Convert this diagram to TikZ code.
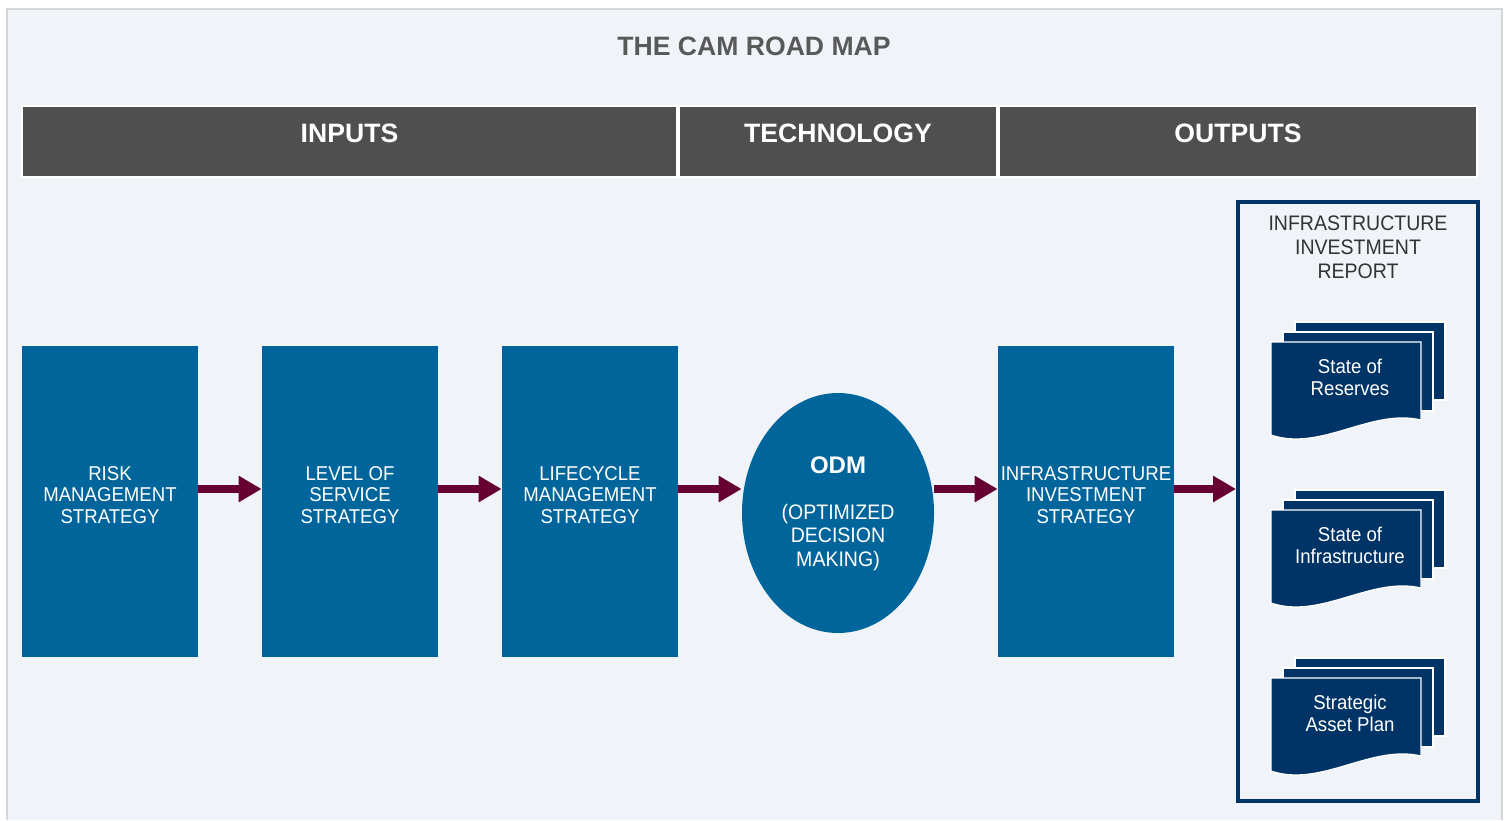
\documentclass[tikz,border=0pt]{standalone}
\usepackage{fontspec}
\setmainfont{Liberation Sans}
\newfontfamily\bodyfont{Liberation Sans}[FakeStretch=0.93]
\usetikzlibrary{positioning}
\usetikzlibrary{arrows.meta}
\usetikzlibrary{shapes.geometric}

\definecolor{panelbg}{HTML}{F0F4F9}
\definecolor{panelline}{HTML}{D5D5D5}
\definecolor{hdrgrey}{HTML}{4F4F4F}
\definecolor{titlegrey}{HTML}{595959}
\definecolor{camblue}{HTML}{00659A}
\definecolor{camnavy}{HTML}{003366}
\definecolor{flowred}{HTML}{660033}
\definecolor{reporttext}{HTML}{333333}

\tikzset{hdr/.style={fill=hdrgrey,draw=white,line width=0.6pt,inner sep=0pt,minimum height=35.5pt}}
\tikzset{hdrtxt/.style={text=white,inner sep=0pt,font=\fontsize{13.3}{15}\selectfont\bfseries}}
\tikzset{blk/.style={fill=camblue,inner sep=0pt,minimum width=88pt,minimum height=155.5pt}}
\tikzset{blktxt/.style={text=white,align=center,inner sep=0pt,font=\bodyfont\fontsize{10}{10.75}\selectfont}}
\tikzset{flow/.style={draw=flowred,line width=4pt,-{Triangle[length=11.5pt,width=12.5pt]}}}
\tikzset{page/.style={fill=camnavy,draw=white,line width=0.6pt}}
\tikzset{stacktxt/.style={text=white,align=center,inner sep=0pt,font=\bodyfont\fontsize{10}{11}\selectfont}}

% three stacked report sheets, front one with a wavy edge
\newcommand\docstack[4]{%
  \begin{scope}[shift={(#2,#3)}]
    \draw[page] (24,-20) rectangle (174,58);
    \draw[page] (12,-10) rectangle (162,69);
    \draw[page] (0,0) -- (150,0) -- (150,78) .. controls (100,66) and (50,110) .. (0,93) -- cycle;
    \node[stacktxt] (#1) at (79,35) {#4};
  \end{scope}}

\begin{document}
\begin{tikzpicture}[x=0.5pt, y=-0.5pt, node distance=120pt, on grid]
    \useasboundingbox (0,0) rectangle (1509,820);
    \fill[white] (0,0) rectangle (1509,820);
    \fill[panelbg] (7,9) rectangle (1502,820);
    \draw[panelline, line width=1pt] (7,820) -- (7,9) -- (1502,9) -- (1502,820);

    \node[text=titlegrey, font=\fontsize{13.3}{15}\selectfont\bfseries] (title) at (754,46) {THE CAM ROAD MAP};

    % column headers
    \node[hdr, minimum width=327.5pt] (inputs) at (349.5,141.5) {};
    \node[hdr, minimum width=159pt] (tech) at (838,141.5) {};
    \node[hdr, minimum width=239pt] (outputs) at (1238,141.5) {};
    \node[hdrtxt] (inputstxt) at ([yshift=4pt]inputs.center) {INPUTS};
    \node[hdrtxt] (techtxt) at ([yshift=4pt]tech.center) {TECHNOLOGY};
    \node[hdrtxt] (outputstxt) at ([yshift=4pt]outputs.center) {OUTPUTS};

    % strategy blocks
    \node[blk] (risk) at (110,501.5) {};
    \node[blk, right=of risk] (service) {};
    \node[blk, right=of service] (lifecycle) {};
    \node[ellipse, fill=camblue, inner sep=0pt, minimum width=96pt, minimum height=120pt] (odm) at (838,513) {};
    \node[blk] (iis) at (1086,501.5) {};
    \node[draw=camnavy, line width=2pt, inner sep=0pt, minimum width=120pt, minimum height=299.5pt] (report) at (1358,501.5) {};

    \node[blktxt] (risktxt) at ([yshift=3.25pt]risk.center) {RISK\\MANAGEMENT\\STRATEGY};
    \node[blktxt] (servicetxt) at ([yshift=3.25pt]service.center) {LEVEL OF\\SERVICE\\STRATEGY};
    \node[blktxt] (lifecycletxt) at ([yshift=3.25pt]lifecycle.center) {LIFECYCLE\\MANAGEMENT\\STRATEGY};
    \node[blktxt] (iistxt) at ([yshift=3.25pt]iis.center) {INFRASTRUCTURE\\INVESTMENT\\STRATEGY};
    \node[text=white, inner sep=0pt, font=\fontsize{12}{14}\selectfont\bfseries] (odmtxt) at (838,465) {ODM};
    \node[blktxt, font=\bodyfont\fontsize{10.5}{11.75}\selectfont] (odmsub) at (838,537.5) {(OPTIMIZED\\DECISION\\MAKING)};
    \node[text=reporttext, align=center, inner sep=0pt, font=\bodyfont\fontsize{10.5}{12}\selectfont] (reporttxt) at (1358,247.5) {INFRASTRUCTURE\\INVESTMENT\\REPORT};

    \docstack{reserves}{1271}{342}{State of\\Reserves}
    \docstack{infrastate}{1271}{510}{State of\\Infrastructure}
    \docstack{sap}{1271}{678}{Strategic\\Asset Plan}

    % flow arrows
    \coordinate (flowline) at (0,489);
    \draw[flow] (risk.east |- flowline) -- (service.west |- flowline);
    \draw[flow] (service.east |- flowline) -- (lifecycle.west |- flowline);
    \draw[flow] (lifecycle.east |- flowline) -- (odm.west |- flowline);
    \draw[flow] (odm.east |- flowline) -- (iis.west |- flowline);
    \draw[flow] (iis.east |- flowline) -- (report.west |- flowline);
\end{tikzpicture}
\end{document}
